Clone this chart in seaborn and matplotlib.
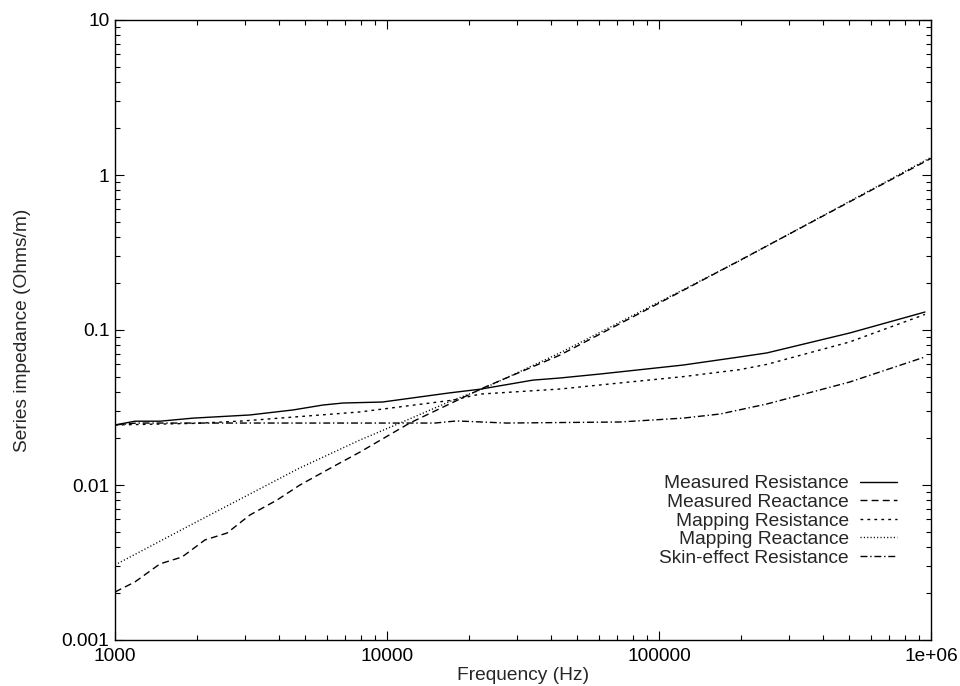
import matplotlib
matplotlib.use("Agg")
import matplotlib.pyplot as plt
import matplotlib.ticker as mticker
import seaborn as sns

# Data (Hz, Ohms/m)
freq_meas_res = [1000, 1184, 1464, 1934, 3131, 4520, 5810, 6890, 9620, 17000,
                 22000, 34400, 43180, 60700, 122500, 198000, 249000, 503000, 950000]
meas_res = [0.0244, 0.0258, 0.0258, 0.0270, 0.0283, 0.0305, 0.0328, 0.0338, 0.0343, 0.0393,
            0.0415, 0.0475, 0.0490, 0.0520, 0.0594, 0.0670, 0.0711, 0.0957, 0.1306]

freq_meas_react = [1000, 1184, 1464, 1763, 2141, 2582, 3131, 3942, 4786, 6170,
                   7950, 12120, 22560, 43180, 100000, 198000, 1000000]
meas_react = [0.00204, 0.00237, 0.0031, 0.00343, 0.00442, 0.0049, 0.0064, 0.0080, 0.0100, 0.0128,
              0.0163, 0.0251, 0.0423, 0.0688, 0.149, 0.281, 1.28]

freq_map_res = [1000, 2000, 2956, 7950, 17500, 22000, 43180, 60700, 122500,
                198000, 249000, 503000, 950000]
map_res = [0.0244, 0.0250, 0.0259, 0.0296, 0.0353, 0.0386, 0.0416, 0.0442, 0.0500,
           0.0555, 0.0600, 0.0838, 0.1260]

freq_map_react = [1000, 2054, 4786, 7950, 11170, 17500, 22000, 43180, 198000, 1000000]
map_react = [0.00305, 0.00594, 0.0129, 0.0195, 0.0251, 0.0353, 0.0410, 0.0711, 0.280, 1.30]

freq_skin = [1000, 1200, 15000, 18000, 27500, 71900, 122500, 167500, 249000, 503000, 950000]
skin_res = [0.0244, 0.0251, 0.0251, 0.0259, 0.0251, 0.0255, 0.0270, 0.0287, 0.0333, 0.0462, 0.0670]

sns.set_style("ticks")
plt.rcParams['font.family'] = ['Liberation Sans', 'DejaVu Sans']
plt.rcParams['font.size'] = 13.8

fig = plt.figure(figsize=(9.6, 6.86), dpi=100)
ax = fig.add_axes([115 / 960, 1 - 640 / 686, 816 / 960, 620 / 686])

lw = 1.0
sns.lineplot(x=freq_meas_res, y=meas_res, ax=ax, color='black', lw=lw,
             linestyle='-', label='Measured Resistance')
sns.lineplot(x=freq_meas_react, y=meas_react, ax=ax, color='black', lw=lw,
             linestyle=(0, (5, 3)), label='Measured Reactance')
sns.lineplot(x=freq_map_res, y=map_res, ax=ax, color='black', lw=lw,
             linestyle=(0, (2, 3)), label='Mapping Resistance')
sns.lineplot(x=freq_map_react, y=map_react, ax=ax, color='black', lw=lw,
             linestyle=(0, (0.8, 1.6)), label='Mapping Reactance')
sns.lineplot(x=freq_skin, y=skin_res, ax=ax, color='black', lw=lw,
             linestyle=(0, (5, 2, 1, 2)), label='Skin-effect Resistance')

ax.set_xscale('log')
ax.set_yscale('log')
ax.set_xlim(1000, 1e6)
ax.set_ylim(0.001, 10)

ax.xaxis.set_major_locator(mticker.FixedLocator([1000, 10000, 100000, 1000000]))
ax.xaxis.set_major_formatter(mticker.FixedFormatter(['1000', '10000', '100000', '1e+06']))
ax.yaxis.set_major_locator(mticker.FixedLocator([0.001, 0.01, 0.1, 1, 10]))
ax.yaxis.set_major_formatter(mticker.FixedFormatter(['0.001', '0.01', '0.1', '1', '10']))
ax.xaxis.set_minor_locator(mticker.LogLocator(base=10, subs=range(2, 10)))
ax.yaxis.set_minor_locator(mticker.LogLocator(base=10, subs=range(2, 10)))
ax.xaxis.set_minor_formatter(mticker.NullFormatter())
ax.yaxis.set_minor_formatter(mticker.NullFormatter())

ax.tick_params(which='both', direction='in', top=True, right=True, width=0.8, colors='black')
ax.tick_params(which='major', length=6.5)
ax.tick_params(which='minor', length=3.3)
ax.tick_params(axis='x', pad=6)
ax.tick_params(axis='y', pad=4)
for sp in ax.spines.values():
    sp.set_linewidth(1.0)
    sp.set_color('black')

ax.set_xlabel('Frequency (Hz)', labelpad=1)
ax.set_ylabel('Series impedance (Ohms/m)', labelpad=22)

ax.legend(loc='upper right', bbox_to_anchor=(0.958, 0.266), frameon=False,
          markerfirst=False, borderaxespad=0, borderpad=0, handlelength=1.9,
          handletextpad=0.6, labelspacing=0.06, fontsize=13.8)

fig.savefig('out.png', dpi=100)
